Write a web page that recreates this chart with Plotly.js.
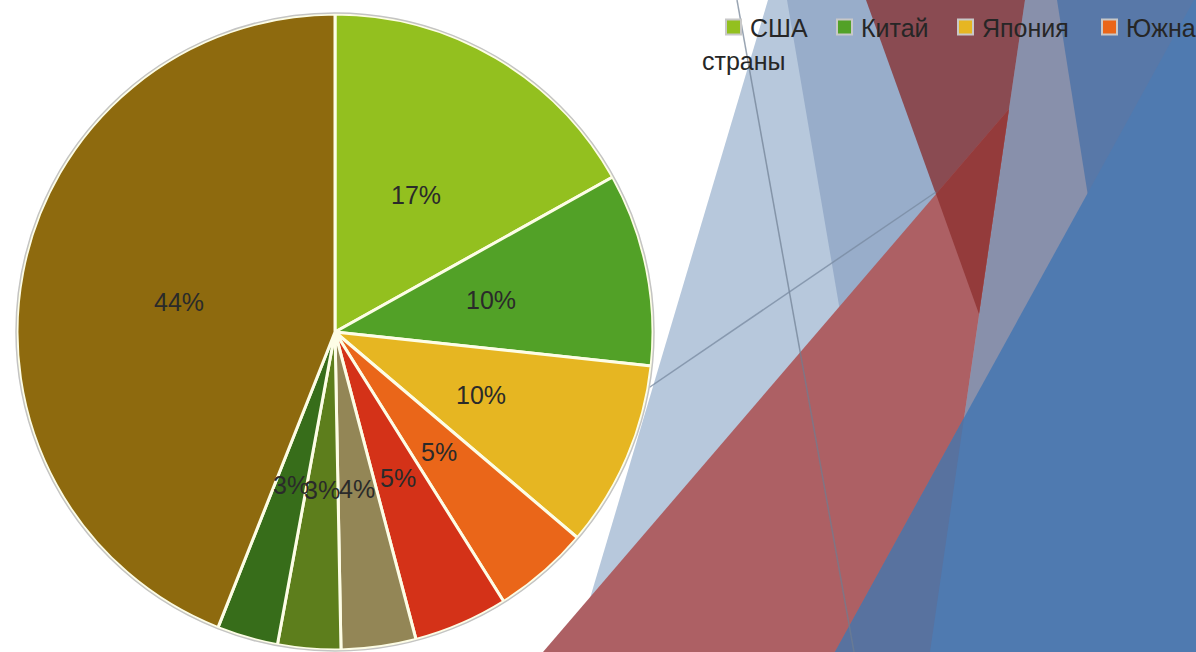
<!DOCTYPE html>
<html>
<head>
<meta charset="utf-8">
<script src="https://cdn.plot.ly/plotly-3.0.1.min.js"></script>
<style>html,body{margin:0;padding:0;background:#fff;overflow:hidden}#chart{width:1196px;height:652px}</style>
</head>
<body>
<div id="chart"></div>
<script>
// ---- data ----
var categories = ['США', 'Китай', 'Япония', 'Южная Корея', 'Германия', 'Индия', 'Франция', 'Великобритания', 'Другие страны'];
var values = [16.9, 9.8, 9.5, 4.9, 4.8, 3.8, 3.2, 3.1, 44.0];
var sliceColors = ['#93c01f', '#52a127', '#e6b622', '#ea6619', '#d43218', '#938656', '#5d7e1c', '#376d1a', '#8e6a0e'];

// ---- layout constants ----
var W = 1196, H = 652;
var PIE_CX = 335, PIE_CY = 332, PIE_R = 318;
function px(x) { return x / W; }
function py(y) { return 1 - y / H; }
function path(pts) {
  return pts.map(function (p, i) { return (i ? 'L' : 'M') + px(p[0]).toFixed(5) + ',' + py(p[1]).toFixed(5); }).join(' ') + ' Z';
}
function line(a, b) {
  return 'M' + px(a[0]).toFixed(5) + ',' + py(a[1]).toFixed(5) + ' L' + px(b[0]).toFixed(5) + ',' + py(b[1]).toFixed(5);
}

// background decoration (slide theme)
var bg = [
  { pts: [[768, 0], [1196, 0], [1196, 652], [574, 652]], c: '#b7c8dc' },
  { pts: [[787, 0], [1196, 0], [1196, 652], [898, 652]], c: '#98adca' },
  { pts: [[1025, 0], [1196, 0], [1196, 652], [930, 652]], c: '#8890ab' },
  { pts: [[1057, 0], [1196, 0], [1196, 652], [1160, 652]], c: '#5878a8' },
  { pts: [[866, 0], [1025, 0], [979, 314]], c: '#8a4b52' },
  { pts: [[543, 652], [1009, 109], [930, 652]], c: '#ad6064' },
  { pts: [[936, 194], [1009, 109], [979, 314]], c: '#943b3b' },
  { pts: [[1194, 0], [1196, 0], [1196, 652], [835, 652]], c: '#4f7ab0' },
  { pts: [[964, 418], [930, 652], [835, 652]], c: '#58729f' }
];
var shapes = bg.map(function (s) {
  return { type: 'path', xref: 'paper', yref: 'paper', layer: 'below', path: path(s.pts), fillcolor: s.c, line: { width: 0 } };
});
shapes.push({ type: 'path', xref: 'paper', yref: 'paper', layer: 'below', path: line([737, 0], [854, 652]), line: { color: 'rgba(110,125,145,0.7)', width: 1.5 } });
shapes.push({ type: 'path', xref: 'paper', yref: 'paper', layer: 'below', path: line([600, 421], [936, 192]), line: { color: 'rgba(120,138,160,0.75)', width: 1.5 } });

// pie outer ring
shapes.push({ type: 'circle', xref: 'paper', yref: 'paper', layer: 'above',
  x0: px(PIE_CX - PIE_R - 1), x1: px(PIE_CX + PIE_R + 1), y0: py(PIE_CY + PIE_R + 1), y1: py(PIE_CY - PIE_R - 1),
  line: { color: '#c4c4c4', width: 1.5 } });

// percentage labels at half radius
var total = values.reduce(function (a, b) { return a + b; }, 0);
var annotations = [];
var cum = 0;
values.forEach(function (v) {
  var mid = (cum + v / 2) / total * 2 * Math.PI;
  cum += v;
  var x = PIE_CX + 0.5 * PIE_R * Math.sin(mid);
  var y = PIE_CY - 0.5 * PIE_R * Math.cos(mid);
  annotations.push({ xref: 'paper', yref: 'paper', x: px(x), y: py(y), xanchor: 'center', yanchor: 'middle',
    text: Math.round(v / total * 100) + '%', showarrow: false,
    font: { family: 'Liberation Sans, Arial, sans-serif', size: 25, color: '#2a2a2a' } });
});

// legend (cut off by the slide edge as in the original)
var legendMarkerX = [726, 837, 958, 1102];
var LEG_Y = 27, MK = 15;
for (var i = 0; i < legendMarkerX.length; i++) {
  var mx = legendMarkerX[i];
  shapes.push({ type: 'rect', xref: 'paper', yref: 'paper', layer: 'above',
    x0: px(mx), x1: px(mx + MK), y0: py(LEG_Y + MK / 2), y1: py(LEG_Y - MK / 2),
    fillcolor: sliceColors[i], line: { color: '#c8c8c8', width: 2 } });
  annotations.push({ xref: 'paper', yref: 'paper', x: px(mx + MK + 7), y: py(LEG_Y + 1), xanchor: 'left', yanchor: 'middle',
    text: categories[i], showarrow: false,
    font: { family: 'Liberation Sans, Arial, sans-serif', size: 25, color: '#262626' } });
}
var lastName = categories[categories.length - 1].split(' ');
annotations.push({ xref: 'paper', yref: 'paper', x: px(700), y: py(61), xanchor: 'left', yanchor: 'middle',
  text: lastName.slice(1).join(' '), showarrow: false,
  font: { family: 'Liberation Sans, Arial, sans-serif', size: 25, color: '#262626' } });

var trace = {
  type: 'pie',
  labels: categories,
  values: values,
  sort: false,
  direction: 'clockwise',
  rotation: 0,
  textinfo: 'none',
  hoverinfo: 'label+percent',
  marker: { colors: sliceColors, line: { color: '#fdfde6', width: 3 } },
  domain: { x: [px(PIE_CX - PIE_R), px(PIE_CX + PIE_R)], y: [py(PIE_CY + PIE_R), py(PIE_CY - PIE_R)] },
  showlegend: false
};

var layout = {
  width: W, height: H,
  margin: { l: 0, r: 0, t: 0, b: 0 },
  paper_bgcolor: '#ffffff',
  plot_bgcolor: 'rgba(0,0,0,0)',
  showlegend: false,
  shapes: shapes,
  annotations: annotations,
  font: { family: 'Liberation Sans, Arial, sans-serif' }
};

Plotly.newPlot('chart', [trace], layout, { displayModeBar: false, staticPlot: true });
</script>
</body>
</html>
